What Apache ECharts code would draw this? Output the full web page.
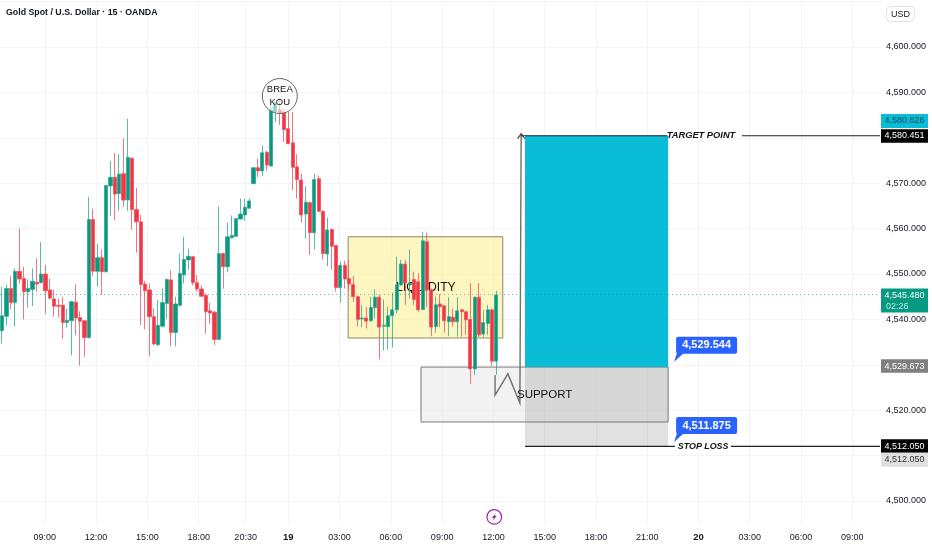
<!DOCTYPE html>
<html><head><meta charset="utf-8">
<script src="https://cdn.jsdelivr.net/npm/echarts@6/dist/echarts.min.js"></script>
<style>html,body{margin:0;padding:0;background:#fff}#c{width:932px;height:550px}</style>
</head><body><div id="c"></div>
<script>
const titleText = 'Gold Spot / U.S. Dollar · 15 · OANDA';
const opens = [4537.5,4540.7,4546.8,4543.7,4550.6,4549.0,4546.1,4546.6,4548.2,4548.1,4550.0,4546.5,4544.5,4543.1,4543.1,4539.3,4539.7,4543.8,4540.4,4539.7,4536.0,4562.0,4550.6,4553.6,4550.5,4569.4,4571.3,4567.7,4572.1,4566.3,4575.5,4564.2,4561.5,4547.8,4546.5,4540.6,4534.4,4538.5,4543.5,4548.7,4537.1,4543.1,4549.8,4553.1,4553.8,4548.1,4546.7,4545.3,4541.9,4541.6,4535.6,4554.5,4551.6,4558.0,4558.3,4562.1,4563.0,4564.5,4569.9,4573.4,4572.7,4576.8,4573.8,4585.7,4586.1,4585.5,4582.0,4578.9,4573.6,4570.7,4563.2,4565.7,4559.1,4571.0,4563.8,4554.4,4559.8,4556.3,4547.0,4551.9,4549.0,4547.7,4545.0,4540.1,4540.3,4539.7,4542.6,4544.9,4538.5,4538.4,4540.8,4542.1,4547.6,4552.2,4547.6,4548.8,4548.3,4542.2,4557.1,4546.5,4538.4,4543.4,4543.0,4539.5,4540.5,4539.5,4542.1,4541.7,4540.0,4529.1,4544.9,4536.8,4539.1,4542.1,4530.8];
const closes = [4540.8,4546.8,4543.7,4550.6,4548.9,4546.1,4546.8,4548.4,4547.8,4550.0,4546.3,4544.7,4542.9,4542.9,4539.3,4539.8,4543.9,4540.3,4539.6,4536.0,4562.0,4550.6,4553.6,4550.5,4569.5,4571.3,4567.6,4572.0,4566.3,4575.7,4564.2,4561.5,4547.7,4546.3,4540.6,4534.6,4538.7,4543.7,4548.8,4537.1,4543.4,4550.1,4553.2,4553.9,4548.1,4546.7,4545.1,4541.7,4541.4,4535.6,4554.5,4551.6,4558.2,4558.5,4562.2,4563.2,4564.7,4566.1,4573.4,4572.7,4576.7,4574.0,4586.1,4587.6,4585.4,4581.8,4578.7,4573.5,4570.8,4563.0,4565.8,4559.1,4570.8,4563.8,4554.5,4559.7,4556.1,4547.0,4551.9,4548.9,4547.8,4545.0,4540.0,4540.3,4539.6,4542.6,4544.9,4538.3,4538.7,4540.8,4542.1,4547.6,4552.2,4548.0,4548.0,4544.4,4542.1,4557.3,4546.5,4538.3,4543.2,4542.8,4539.7,4540.6,4539.5,4541.9,4541.7,4539.9,4529.1,4544.9,4536.6,4539.3,4542.1,4530.8,4545.4];
const lows = [4534.7,4538.7,4542.3,4538.4,4547.9,4540.0,4542.6,4542.9,4546.1,4547.9,4541.2,4544.4,4540.6,4540.4,4535.8,4538.2,4532.1,4536.5,4529.8,4531.8,4535.8,4549.6,4547.3,4545.4,4550.3,4562.8,4561.9,4563.9,4564.8,4563.9,4559.7,4554.7,4538.7,4537.8,4531.8,4534.3,4534.1,4538.2,4540.2,4534.0,4534.1,4542.8,4547.9,4550.9,4547.5,4546.1,4544.9,4536.9,4539.1,4534.4,4535.4,4546.8,4550.4,4557.8,4558.2,4562.0,4561.7,4564.4,4569.8,4571.3,4571.6,4572.7,4573.7,4583.5,4582.8,4579.1,4578.6,4568.5,4566.6,4561.3,4557.8,4554.2,4555.4,4563.7,4553.2,4551.7,4550.9,4546.1,4543.7,4546.8,4546.5,4543.9,4538.4,4538.3,4538.0,4539.5,4540.2,4531.2,4533.1,4533.3,4533.8,4541.3,4547.4,4543.2,4544.6,4543.2,4541.7,4542.0,4542.7,4536.3,4537.1,4538.3,4537.1,4536.3,4538.4,4536.2,4536.2,4536.6,4525.8,4527.8,4536.1,4536.1,4536.6,4529.8,4527.8];
const highs = [4547.2,4547.6,4549.5,4551.2,4560.0,4551.6,4548.8,4551.2,4553.4,4557.0,4552.0,4549.0,4546.5,4544.6,4545.0,4542.4,4544.1,4547.7,4541.8,4539.8,4567.0,4564.4,4556.7,4555.4,4569.6,4574.9,4576.7,4576.4,4579.9,4584.2,4575.6,4569.0,4563.0,4548.5,4547.9,4542.4,4544.3,4546.8,4549.0,4550.9,4545.0,4554.5,4558.2,4555.6,4554.0,4549.8,4547.5,4545.7,4543.7,4541.8,4564.9,4554.7,4561.3,4562.9,4562.4,4566.6,4566.6,4566.6,4573.5,4575.4,4578.4,4577.1,4587.2,4587.9,4588.7,4586.4,4585.7,4585.7,4576.4,4572.1,4569.3,4566.0,4572.1,4571.7,4564.0,4562.4,4560.0,4556.4,4552.7,4552.9,4553.0,4549.6,4545.2,4543.2,4542.7,4545.0,4546.6,4545.4,4544.4,4542.8,4545.9,4553.8,4553.1,4553.1,4555.4,4550.5,4550.2,4559.3,4559.1,4546.8,4545.0,4545.6,4543.1,4544.9,4542.4,4544.9,4542.2,4541.9,4548.0,4545.0,4548.0,4542.1,4543.2,4542.4,4546.3];
const tickSlots = [10,22,34,46,57,67,79,91,103,115,127,139,151,163,175,187,199];
const tickLabels = ['09:00','12:00','15:00','18:00','20:30','19','03:00','06:00','09:00','12:00','15:00','18:00','21:00','20','03:00','06:00','09:00'];
const dayLabels = ['19','20'];
const slotCount = 206;
const barSlotCount = 203;
const hiddenPriceTicks = [4510,4530,4580,4610];
const lastPrice = 4545.48;
const targetPrice = 4580.451, stopPrice = 4512.05;
const priceTagValues = [4580.626,4580.451,4545.48,4529.673,4512.05,4512.05];
const priceTagTexts = ['4,580.626','4,580.451','4,545.480','4,529.673','4,512.050','4,512.050'];
const calloutValues = [4529.544,4511.875];
const calloutTexts = ['4,529.544','4,511.875'];
const zones = [[81.0,117.2,4558.2,4535.9],[98.05,155.9,4529.5,4517.4],[122.4,155.9,4529.5,4512.05],[122.4,155.9,4580.45,4529.5]];
const pathPoints = [[115.4,4527.7],[115.4,4523.35],[118.4,4528],[121.2,4521.6],[121.5,4580.9]];
const levelSegments = [[121.5,155.7,173.2,205.5],[122.4,157.5,170.6,205.5]];

const FONT = '"Liberation Sans",sans-serif';
const INK = '#131722', GRID = '#f3f4f6';
const zoneStyles = [
  {fill:'rgba(251,240,150,0.6)',stroke:'#8f8a62',lineWidth:1},
  {fill:'rgba(235,235,235,0.65)',stroke:'#7a7a7a',lineWidth:1},
  {fill:'rgba(120,120,120,0.22)',stroke:'none',lineWidth:0},
  {fill:'#0abcd6',stroke:'none',lineWidth:0}];
const tagStyles = [
  {fill:'#0abcd6',color:'#0d4a5a',top:-21,h:14},
  {fill:'#000000',color:'#ffffff',top:-6.5,h:13.5},
  {fill:'#089981',color:'#ffffff',top:-6,h:24,sub:'02:26'},
  {fill:'#7f7f7f',color:'#ffffff',top:-7,h:13.5},
  {fill:'#000000',color:'#ffffff',top:-7,h:13.5},
  {fill:'#e0e0e0',color:'#333333',top:6.5,h:14}];
const cats = Array.from({length:slotCount},()=>'' );
tickSlots.forEach((s,i)=>{cats[s]=tickLabels[i];});
const barCats = Array.from({length:barSlotCount},(_,i)=>String(i));
const candles = opens.map((o,i)=>[o,closes[i],lows[i],highs[i]]);
const rectOf = (p0,p1)=>({x:Math.min(p0[0],p1[0]),y:Math.min(p0[1],p1[1]),width:Math.abs(p1[0]-p0[0]),height:Math.abs(p1[1]-p0[1])});

const chart = echarts.init(document.getElementById('c'),null,{renderer:'canvas'});
chart.setOption({
  animation:false,
  backgroundColor:'#ffffff',
  title:[
    {text:titleText,left:6,top:8,padding:0,textStyle:{fontFamily:FONT,fontSize:8.8,fontWeight:'bold',color:INK}},
    {text:'USD',left:886,top:6,padding:[4,5,3,5],borderColor:'#dfe1e6',borderWidth:1,borderRadius:4,textStyle:{fontFamily:FONT,fontSize:9,fontWeight:'normal',color:INK}}
  ],
  grid:{left:0,right:52,top:1.6,bottom:26.3,containLabel:false,outerBoundsMode:'none'},
  xAxis:[
    {type:'category',data:cats,boundaryGap:true,axisLine:{show:false},axisTick:{show:false},
     axisLabel:{interval:(i,v)=>v!=='',margin:9,hideOverlap:false,fontFamily:FONT,fontSize:9,color:INK,
       formatter:v=>dayLabels.includes(v)?'{d|'+v+'}':v,rich:{d:{fontFamily:FONT,fontSize:9.5,fontWeight:'bold',color:INK}}},
     splitLine:{show:true,alignWithLabel:true,interval:(i,v)=>v!=='',lineStyle:{color:GRID,width:1}}},
    {type:'category',data:barCats,show:false,boundaryGap:true},
    {type:'value',show:false,min:-0.5,max:slotCount-0.5,splitLine:{show:false}}
  ],
  yAxis:{type:'value',position:'right',min:4495,max:4610,interval:5,scale:true,
    axisLine:{show:false},axisTick:{show:false},
    axisLabel:{margin:6,fontFamily:FONT,fontSize:9,color:INK,showMinLabel:false,
      formatter:v=>(v%10!==0||hiddenPriceTicks.includes(v))?'':v.toLocaleString('en-US',{minimumFractionDigits:3})},
    splitLine:{show:true,lineStyle:{color:['transparent',GRID],width:1}}},
  series:[
    {type:'custom',name:'zones',coordinateSystem:'cartesian2d',xAxisIndex:2,z:1,silent:true,data:zones,
     encode:{x:[0,1],y:[2,3]},
     renderItem:(p,api)=>{const i=p.dataIndex;const z=zones[i];const s=zoneStyles[i];
       return {type:'rect',shape:rectOf(api.coord([z[0],z[2]]),api.coord([z[1],z[3]])),style:{fill:s.fill,stroke:s.stroke,lineWidth:s.lineWidth}};}},
    {type:'custom',name:'liquidity label',coordinateSystem:'cartesian2d',xAxisIndex:2,z:1,silent:true,data:[[99.2,4546.9]],
     renderItem:(p,api)=>{const c=api.coord([99.2,4546.9]);
       return {type:'text',style:{text:'LIQUIDITY',x:c[0],y:c[1],align:'center',verticalAlign:'middle',font:'12.2px '+FONT,fill:'#111'}};}},
    {type:'candlestick',name:'XAUUSD',xAxisIndex:1,z:2,barWidth:3.7,data:candles,silent:true,
     itemStyle:{color:'#089981',color0:'#f23645',borderColor:'#2fa893',borderColor0:'#f3505e',borderWidth:0.8},
     markLine:{silent:true,symbol:'none',label:{show:false},data:[{yAxis:lastPrice}],lineStyle:{type:[1,3],width:1,color:'#089981',opacity:.6}}},
    {type:'custom',name:'path',coordinateSystem:'cartesian2d',xAxisIndex:2,z:3,silent:true,data:pathPoints,
     renderItem:(p,api)=>{ if(p.dataIndex!==0) return null;
       const pts=pathPoints.map(q=>api.coord(q));const t=pts[pts.length-1];
       return {type:'group',children:[
         {type:'polyline',shape:{points:pts},style:{stroke:'#6f6f6f',lineWidth:1.4,fill:'none'}},
         {type:'polyline',shape:{points:[[t[0]-3.5,t[1]+5],[t[0],t[1]],[t[0]+3.5,t[1]+5]]},style:{stroke:'#444',lineWidth:1.2,fill:'none'}}]};}},
    {type:'custom',name:'levels',coordinateSystem:'cartesian2d',xAxisIndex:2,z:4,silent:true,
     data:[[targetPrice],[stopPrice]],
     renderItem:(p,api)=>{const isT=p.dataIndex===0;const v=isT?targetPrice:stopPrice;const g=levelSegments[p.dataIndex];
       const a=api.coord([g[0],v]),b=api.coord([g[1],v]),d=api.coord([g[2],v]),e=api.coord([g[3],v]),c=api.coord([isT?163.6:164.1,v]);
       return {type:'group',children:[
         {type:'line',shape:{x1:a[0],y1:a[1],x2:b[0],y2:b[1]},style:{stroke:'#222',lineWidth:1.2}},
         {type:'line',shape:{x1:d[0],y1:d[1],x2:e[0],y2:e[1]},style:{stroke:'#222',lineWidth:1.2}},
         {type:'text',style:{text:isT?'TARGET POINT':'STOP LOSS',x:c[0],y:c[1],align:'center',verticalAlign:'middle',
           font:(isT?'italic bold 9.3px ':'italic bold 8.9px ')+FONT,fill:'#111'}}]};}},
    {type:'custom',name:'support label',coordinateSystem:'cartesian2d',xAxisIndex:2,z:4,silent:true,data:[[127,4523.35]],
     renderItem:(p,api)=>{const c=api.coord([127,4523.35]);
       return {type:'text',style:{text:'SUPPORT',x:c[0],y:c[1],align:'center',verticalAlign:'middle',font:'11.5px '+FONT,fill:'#111'}};}},
    {type:'custom',name:'breakout',coordinateSystem:'cartesian2d',xAxisIndex:2,z:4,silent:true,data:[[65,4589.2]],
     renderItem:(p,api)=>{const c=api.coord([65,4589.2]);
       return {type:'group',children:[
         {type:'circle',shape:{cx:c[0],cy:c[1],r:17.5},style:{fill:'rgba(255,255,255,.55)',stroke:'#666',lineWidth:1}},
         {type:'text',style:{text:'BREA\nKOU',x:c[0],y:c[1],align:'center',verticalAlign:'middle',lineHeight:13,font:'9.5px '+FONT,fill:'#111'}}]};}},
    {type:'custom',name:'callouts',coordinateSystem:'cartesian2d',xAxisIndex:2,z:5,silent:true,data:calloutValues.map(v=>[157.3,v]),
     renderItem:(p,api)=>{const v=calloutValues[p.dataIndex];const c=api.coord([157.3,v]);const tx=c[0],ty=c[1]-5;
       return {type:'group',children:[
         {type:'polygon',shape:{points:[[tx,ty],[tx+3,ty-9],[tx+10,ty-9]]},style:{fill:'#2962ff'}},
         {type:'rect',shape:{x:tx+2,y:ty-25,width:61,height:17,r:2},style:{fill:'#2962ff'}},
         {type:'text',style:{text:calloutTexts[p.dataIndex],x:tx+32.5,y:ty-16.5,align:'center',verticalAlign:'middle',font:'bold 11px '+FONT,fill:'#fff'}}]};}},
    {type:'custom',name:'price tags',coordinateSystem:'cartesian2d',xAxisIndex:2,z:6,silent:true,data:priceTagValues.map(v=>[slotCount-0.5,v]),
     renderItem:(p,api)=>{const i=p.dataIndex;const s=tagStyles[i];const c=api.coord([slotCount-0.5,priceTagValues[i]]);
       const top=c[1]+s.top;
       const kids=[{type:'rect',shape:{x:c[0]+1,y:top,width:47,height:s.h},style:{fill:s.fill}},
         {type:'text',style:{text:priceTagTexts[i],x:c[0]+24.5,y:top+(s.sub?6.5:s.h/2),align:'center',verticalAlign:'middle',font:'9px '+FONT,fill:s.color}}];
       if(s.sub)kids.push({type:'text',style:{text:s.sub,x:c[0]+6,y:top+17.5,align:'left',verticalAlign:'middle',font:'9px '+FONT,fill:'#bfe8df'}});
       return {type:'group',children:kids};}},
    {type:'custom',name:'event',coordinateSystem:'cartesian2d',xAxisIndex:2,z:6,silent:true,data:[[115.2,4496.5]],
     renderItem:(p,api)=>{const c=api.coord([115.2,4496.5]);const x=c[0],y=c[1];
       return {type:'group',children:[
         {type:'circle',shape:{cx:x,cy:y,r:7.3},style:{fill:'#fff',stroke:'#9c27b0',lineWidth:1.2}},
         {type:'polygon',shape:{points:[[x+1.8,y-4],[x-2.6,y+0.8],[x-0.3,y+0.8],[x-1.8,y+4],[x+2.6,y-0.8],[x+0.3,y-0.8]]},style:{fill:'#9c27b0'}}]};}}
  ]
});
</script></body></html>
